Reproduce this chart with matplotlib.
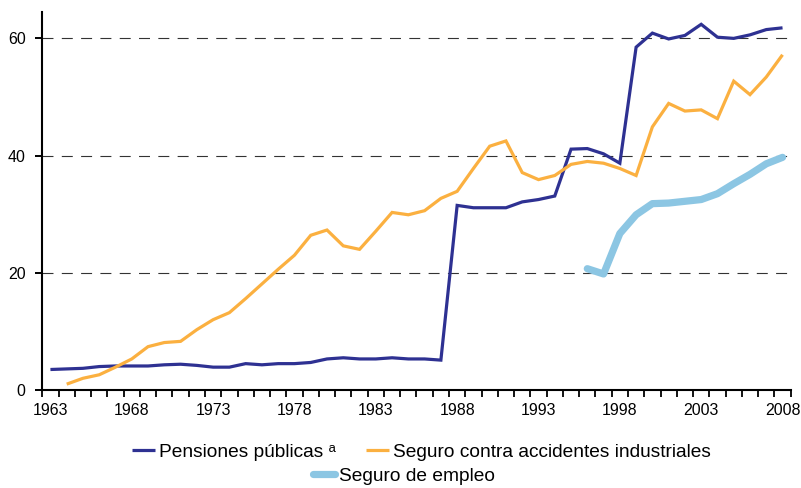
import numpy as np
import matplotlib
matplotlib.use("Agg")
import matplotlib.pyplot as plt

plt.rcParams['font.family'] = ['Liberation Sans', 'DejaVu Sans']
plt.rcParams['lines.scale_dashes'] = False

# series, one value per year
years = list(range(1963, 2009))

pensiones = [3.5, 3.6, 3.7, 4.0, 4.1, 4.1, 4.1, 4.3, 4.4, 4.2,
             3.9, 3.9, 4.5, 4.3, 4.5, 4.5, 4.7, 5.3, 5.5, 5.3,
             5.3, 5.5, 5.3, 5.3, 5.1, 31.5, 31.1, 31.1, 31.1, 32.1,
             32.5, 33.1, 41.1, 41.2, 40.3, 38.7, 58.5, 60.9, 59.9, 60.5,
             62.4, 60.2, 60.0, 60.6, 61.5, 61.8]

accidentes_years = list(range(1964, 2009))
accidentes = [1.0, 2.0, 2.6, 3.9, 5.3, 7.4, 8.1, 8.3, 10.3,
              12.0, 13.2, 15.6, 18.1, 20.6, 23.0, 26.4, 27.3, 24.6, 24.0,
              27.1, 30.3, 29.9, 30.6, 32.7, 33.9, 37.8, 41.6, 42.5, 37.1,
              35.9, 36.6, 38.5, 39.0, 38.7, 37.8, 36.6, 44.9, 48.9, 47.6,
              47.8, 46.3, 52.7, 50.4, 53.4, 57.2]

empleo_years = list(range(1996, 2009))
empleo = [20.7, 19.8, 26.7, 29.9, 31.8, 31.9, 32.2, 32.5, 33.5,
          35.2, 36.8, 38.6, 39.7]

label_years = list(range(1963, 2009, 5))
y_ticks = [0, 20, 40, 60]

c_pens = '#2e3192'
c_acc = '#fbb040'
c_emp = '#8cc6e3'

fig = plt.figure(figsize=(8.01, 4.88), dpi=100)
ax = fig.add_axes([0.0528, 0.2008, 0.9343, 0.7746])

l1, = ax.plot(years, pensiones, color=c_pens, lw=2.3,
              solid_capstyle='butt', solid_joinstyle='miter')
l2, = ax.plot(accidentes_years, accidentes, color=c_acc, lw=2.3,
              solid_capstyle='butt', solid_joinstyle='miter')
l3, = ax.plot(empleo_years, empleo, color=c_emp, lw=5.2,
              solid_capstyle='round', solid_joinstyle='round')

ax.set_xlim(1962.5, 2008.5)
ax.set_ylim(0, 64.5)

# year boundaries get the tick marks, labels sit in the middle of each year
ax.set_xticks(label_years)
ax.set_xticks(np.arange(1962.5, 2009, 1.0), minor=True)
ax.tick_params(axis='x', which='major', length=0, pad=9.5, labelsize=11.5)
ax.tick_params(axis='x', which='minor', length=4.8, width=1.3,
               direction='out', color='black')
ax.set_yticks(y_ticks)
ax.tick_params(axis='y', length=5, width=1.4, pad=7, labelsize=11.5)

for s in ['top', 'right']:
    ax.spines[s].set_visible(False)
for s in ['left', 'bottom']:
    ax.spines[s].set_linewidth(1.5)
    ax.spines[s].set_color('black')

ax.set_axisbelow(True)
ax.yaxis.grid(True, color='#333333', lw=0.8, linestyle=(0, (7.9, 6.0)))
ax.xaxis.grid(False)

fig.legend([l1, l2],
           ['Pensiones públicas ᵃ',
            'Seguro contra accidentes industriales'],
           ncol=2, loc='center left', bbox_to_anchor=(0.1644, 0.0738),
           frameon=False, fontsize=13.8, borderpad=0, borderaxespad=0,
           handlelength=1.2, handletextpad=0.2, columnspacing=1.6)
fig.legend([l3], ['Seguro de empleo'],
           loc='center left', bbox_to_anchor=(0.3905, 0.025),
           frameon=False, fontsize=13.8, borderpad=0, borderaxespad=0,
           handlelength=1.15, handletextpad=0.22)

fig.savefig('out.png', dpi=100)
